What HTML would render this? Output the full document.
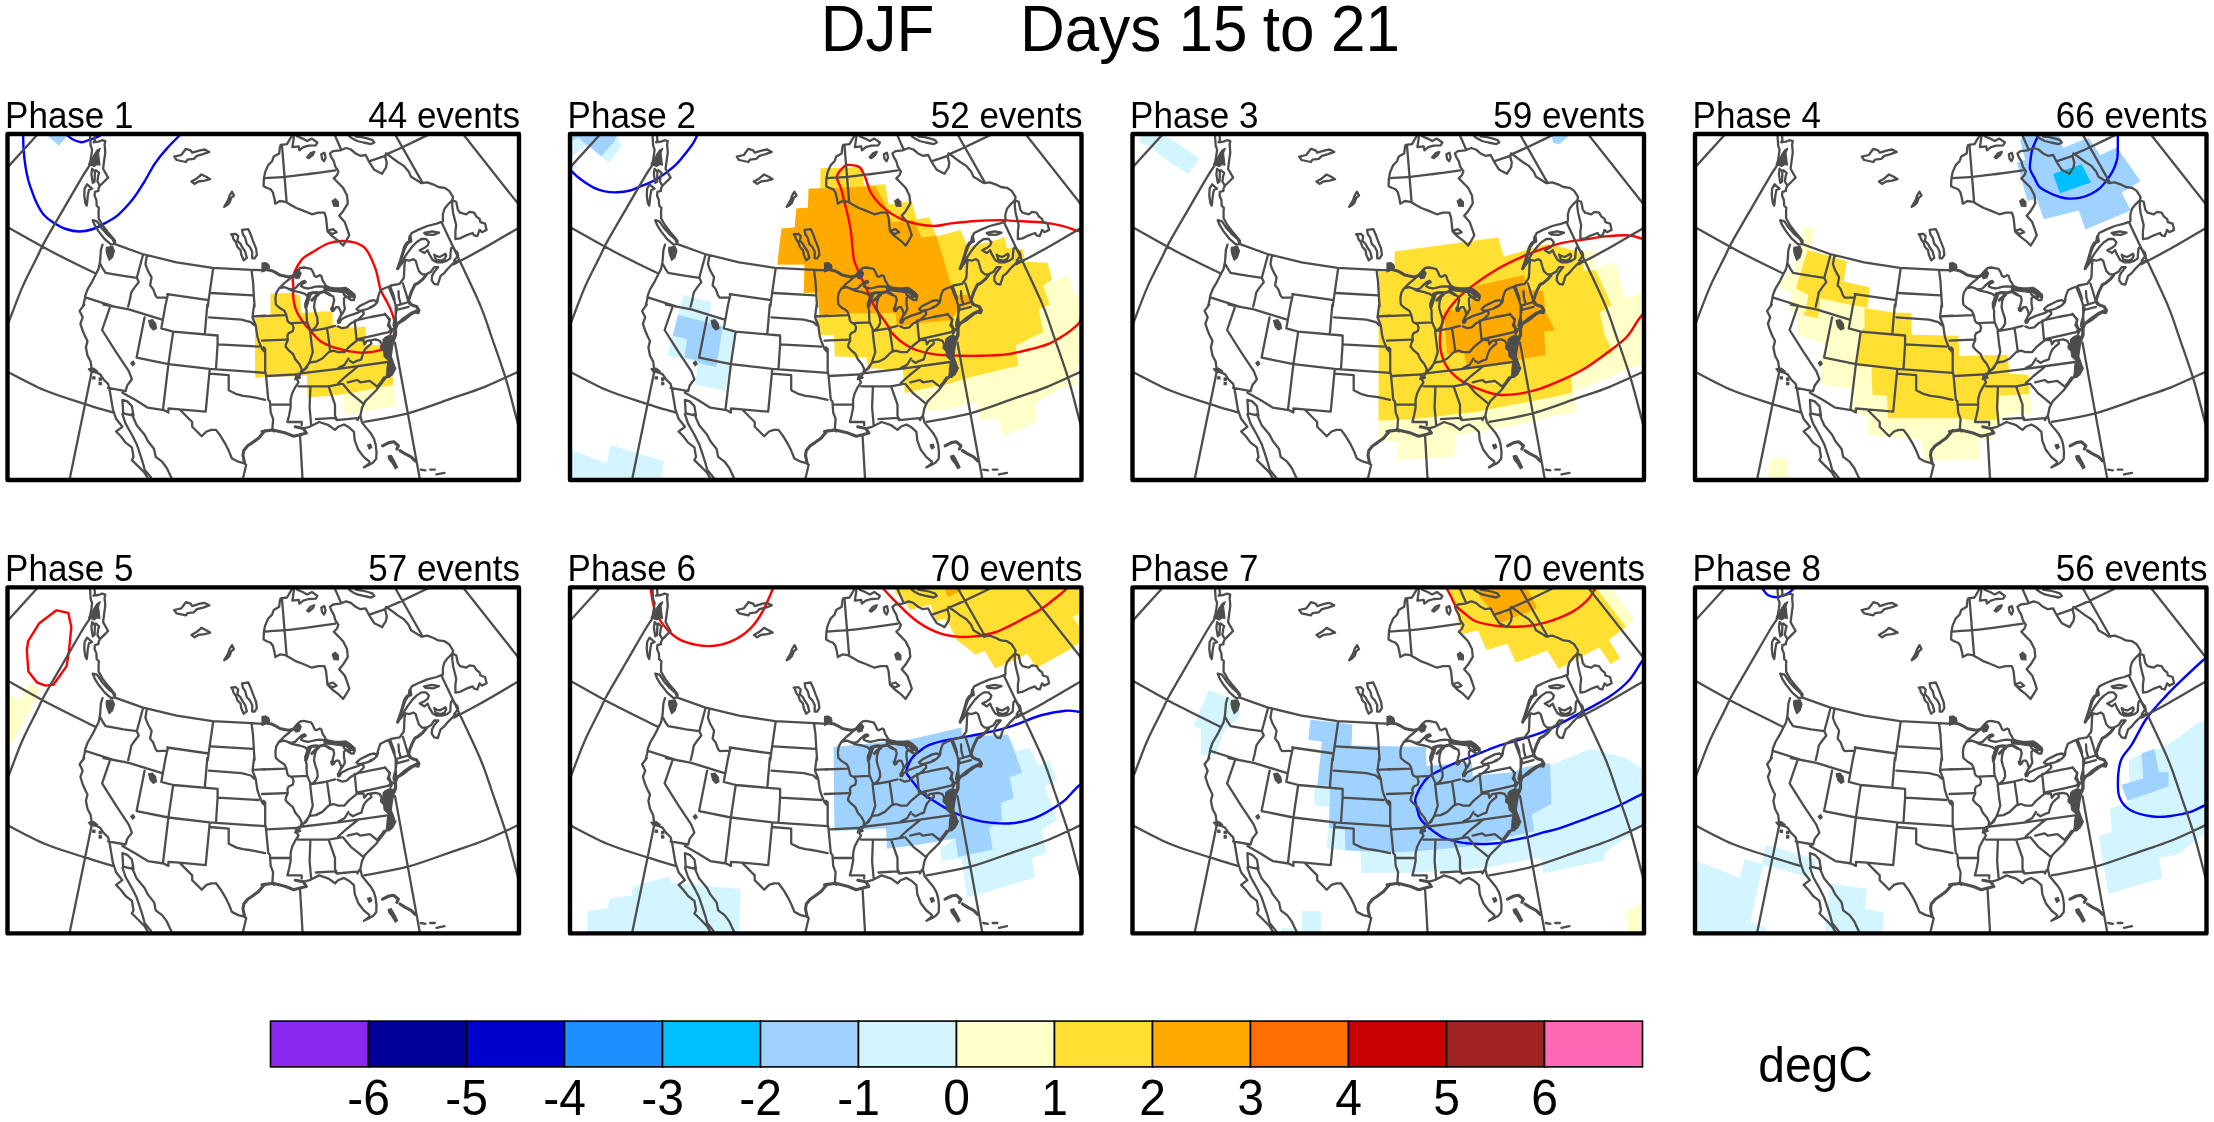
<!DOCTYPE html><html><head><meta charset="utf-8"><style>html,body{margin:0;padding:0;background:#fff;}svg{display:block;}svg{will-change:transform;}</style></head><body>
<svg width="2214" height="1122" viewBox="0 0 2214 1122">
<defs>
<clipPath id="pc1"><rect x="7.5" y="134.0" width="511.5" height="346.0"/></clipPath>
<clipPath id="pc2"><rect x="570.0" y="134.0" width="511.5" height="346.0"/></clipPath>
<clipPath id="pc3"><rect x="1132.5" y="134.0" width="511.5" height="346.0"/></clipPath>
<clipPath id="pc4"><rect x="1695.0" y="134.0" width="511.5" height="346.0"/></clipPath>
<clipPath id="pc5"><rect x="7.5" y="587.4" width="511.5" height="346.0"/></clipPath>
<clipPath id="pc6"><rect x="570.0" y="587.4" width="511.5" height="346.0"/></clipPath>
<clipPath id="pc7"><rect x="1132.5" y="587.4" width="511.5" height="346.0"/></clipPath>
<clipPath id="pc8"><rect x="1695.0" y="587.4" width="511.5" height="346.0"/></clipPath>
<g id="map"><g fill="none" stroke="#4d4d4d" stroke-width="2.3" stroke-linejoin="round" stroke-linecap="round"><path d="M5.6,623L40.2,584.9 M4.4,678.8C12.3,683.2 36.6,697.1 51.8,705.1C67,713.1 88.2,723.3 95.5,726.9 M265.1,631.5C268.5,631.3 278.1,630.9 285.4,630.2C292.7,629.6 300.5,628.5 308.8,627.4C317.1,626.3 330.9,624.3 335.3,623.7 M282,599L286.6,655.2 M332.9,584.2L340.8,602.2 M369.6,614.6L385.2,609.2 M386.8,607.6C389.4,606.4 395,604.1 402.4,600.6C409.8,597.1 426.4,589.1 431.2,586.8 M393.2,584.5L422.7,636.5 M461.1,585L521.5,661.5 M453.9,717.6C458.3,715.2 468.9,710 480.4,703.5C491.9,697.1 515.9,682.8 523,678.7 M441.4,675.5C444.8,682.6 454.9,703.9 461.5,718C468.1,732.1 475.8,748 480.8,760C485.8,772 487.4,778 491.5,790C495.6,802 501.6,818.5 505.7,831.8C509.8,845.1 513.4,860.2 516,870C518.6,879.8 520.6,887.3 521.5,890.8 M4.4,823.5C11.1,826.9 31.3,838.1 44.7,843.7C58,849.3 73,853.5 84.3,857.2C95.7,860.9 108.1,864.4 112.9,865.9 M68.8,936.8L91.5,826.2 M395,796.1L420.6,936.8 M364.3,875.4C371.6,874 393.3,870.6 408,866.7C422.6,862.7 439.7,856 452.4,851.6C465.1,847.2 472.6,845.1 484.1,840.5C495.6,835.9 515.1,826.5 521.3,823.8 M300.1,889.7L302.8,936.9 M90.3,617.5C90,618 90,618.2 88.7,620.3C87.4,622.4 86.6,623 82.4,630C78.2,637 69.8,651.7 63.5,662.5C57.2,673.3 49.1,687.1 44.7,695C40.3,702.9 41,702.5 37.4,710C33.7,717.5 27,730 22.6,740C18.2,750 14.4,760.7 10.8,770C7.2,779.3 2.5,791.3 0.8,795.6"/><path d="M115,697.6L142.3,707.4 176.6,715.7 212.5,721.2 251.5,723.2 265,723.8 M102.5,698.1L100.9,703.5 100.1,714.5 98.6,722.3 96.2,726.9 92.3,734.7 87.7,742.5 85.3,748.8 84.6,753.5 83,760 M100.5,717.6L102.5,721.5 105.6,726.2 114.2,727.7 123.5,729.3 136.8,731.2 M143,708.2L136.8,731.2 M136.8,731.2L138.8,735.5 134.5,741 131.3,745.7 129.8,753.5 128.2,760 M146.9,709L145.4,717.6 147.7,723.8 151.6,730.8 150.1,738.6 153.2,742.5 155.5,748.8 157.1,751.1 167.2,750.7 M168,747.5L165.2,760 M167.2,747.5L208.6,753.5 M213.2,721.5L208.6,753.5 207.8,760 M210.9,746.4L253,748.8 M251.5,723.5L253,734.7 253.8,748.8 254.6,760 M86.1,751.1L114.2,760 M174.2,610L181.3,608.4 185.9,602.2 190.6,603.7 192.2,606.1 200,603.7 204.7,602.9 209.3,605.3 203.1,607.6 196.9,609.2 193.7,612.3 187.5,613.1 185.9,615.4 176.6,613.4Z M191.4,634.9L196.9,631.8 201.5,627.9 206.2,630.2 210.1,632.6 204.7,634.1 198.4,634.9 194.5,637.3Z M224.2,660.2L228.1,653.6 229.6,649 232,645.1 234,649 231.2,651.3 229.6,656 227.3,658.3Z M242.1,683.3L248.3,682.5 250.7,687.9 253,694.2 256.1,702 256.9,708.2 254.6,711.7 252.2,711.7 252.2,705.1 249.9,700.4 246.8,697.3 245.2,691.1 242.9,687.9Z M231.2,687.6L235.9,687.2 238.2,689.5 237.4,694.2 240.5,697.3 242.1,700.4 245.2,705.1 246.8,711.3 243.7,713.7 241.3,708.2 240.5,703.5 237.4,700.4 235.9,695.7 233.5,692.6 232.7,689.5Z M92.7,673.6L97,674.7 101.7,681.7 107.2,687.9 112.6,692.6 115,697.3 111.1,698.1 104.8,692.6 98.6,684.8 94.7,678.6Z M98.6,665L98.6,671.6 102.5,678.6 107.9,685.6 112.6,691.1 115,694.2 115,697.6 M94.6,588.9L94.9,594.3 93.5,595.7 98.5,595 102.1,593.6 105.3,594.6 104.6,597.8 105.3,605.7 104.2,613.5 103.1,622.1 108.1,631 103.5,635.6 99.9,639.2 98.5,642 98.5,644.2 94.9,645.2 94.6,649.1 96.4,653.4 96.7,659.1 98.9,661.3 98.5,665 M90,588.9L90.7,599.3 92.1,602.8 91.4,608.5 90.3,614.9 89.2,617.8 M92.1,622.1L91.4,627.8 92.8,636.3 94.6,634.9 94.9,624.9Z M95.7,623.5L99.2,626.3 98.2,629.2 97.4,634.9 99.9,639.2 M87.1,637.7L92.1,642 88.9,643.4 87.8,649.1 87.1,656.3 86.7,659.1 85.3,656.3 84.3,649.1 84.6,642Z M291.6,589.7L289.3,593.6 287,597.5 280.7,598.3 279.9,600.6 279.2,606.8 273.7,610 272.1,614.6 268.2,618.5 265.1,625.6 263.9,631.8 263.6,639.6 266.7,641.2 270.6,642.7 272.9,645.8 274.5,652.1 275.3,657.1 279.9,654.4 285.4,655.2 290.9,658.3 296.3,661.4 302.6,663.8 311.9,667.7 318.2,666.1 324.4,666.1 326,670.8 326.7,677 327.5,684.8 332.2,689.5 338.4,694.2 343.1,698.9 M343.1,698.9L346.2,694.2 349.3,688.7 347,681.7 344.7,675.5 339.2,669.2 343.1,664.6 347.8,656.8 347,649 343.1,641.2 336.9,634.9 333.8,631.8 336.9,628.7 338.4,624.8 335.3,620.1 333.8,614.6 331.4,610.7 329.9,606.8 333,604.5 340,603.7 346.2,601.4 350.9,602.9 355.6,606.8 360.3,609.2 365.7,608.4 368.8,614.6 371.2,618.5 374.3,623.2 379,625.6 382.1,627.1 386,620.9 386.8,616.2 385.2,610 386,606.8 391.5,610.7 397.7,615.4 403.9,619.3 408.6,624.8 411,630.2 416.4,633.4 421.1,636.5 427.3,635.7 433.6,638 438.3,640.4 444.5,641.2 449.2,644.3 453.1,650.5 452.3,653.6 447.6,658.3 444.5,662.2 442.9,667.7 442.9,674.7 436.7,677 427.3,679.4 418,683.3 411.7,686.4 409.4,691.1 408.6,695.7 405.5,700.4 402.4,708.2 400,716 397.7,722.3 M452.3,653.6L456.2,655.2 457.8,663 460.1,666.1 466.3,667.7 469.5,665.3 474.1,666.1 476.5,670 479.6,672.3 480.4,675.5 485.1,677 486.6,683.3 481.9,685.6 479.6,683.3 477.3,689.5 474.1,688.7 472.6,686.4 466.3,688.7 460.1,691.8 455.4,692.6 455.4,684.8 456.2,678.6 454.6,672.3 453.1,666.1 452.3,659.9Z M424.2,686.4L432,684.8 439,686.1 433.6,688.3 425.8,687.9Z M294,589.7L292.4,600.6 298.7,599.8 299.4,603.7 303.3,600.6 308.8,599 315.8,598.7 317.4,595.9 311.9,592 307.2,594.4 302.6,592 297.1,589.7 M307.2,610.7L310.4,606.8 314.3,605.3 312.7,608.4 308.8,611.5Z M321.3,607.6L324.4,606.1 325.6,610.7 324.1,614.6 322.1,612.3Z M349.3,589.7L352.5,592 357.1,594.4 363.4,595.9 371.2,597.5 374.3,595.9 372.7,593.6 368.1,592 361.8,590.5 355.6,589.7 M328.3,684L333,682.5 336.6,685.6 333,687.2 329.9,686.4Z M292.7,729.4L295.4,726.3 297.7,723.6 300.3,721.4 303.9,720.9 308.3,721.8 311,722.3 312.8,725 314.6,729.4 316.4,730.3 319.9,728.5 321.3,729.4 322.6,733.9 324.4,736.5 325.7,739.2 M292.7,729.4L288.7,733 284.3,736.5 280.7,740.1 278.9,741.9 M278.9,741.9L284.3,740.6 287.8,741.9 291.4,742.8 295,741.9 298.5,738.3 302.1,735.2 304.8,734.3 305.7,735.7 302.1,737.4 301.2,739.7 303.9,741 308.3,741.9 311.9,741 315.5,740.1 319.9,739.7 324.4,740.1 325.7,739.2 M287.8,741.9L292.3,744.1 299.4,745.5 304.8,747.2 307.9,749.9 M307.9,749.9L306.6,753.5 305.2,757 305.7,760.6 306.6,764.2 306.6,769.5 307,774.9 308.3,778.4 310.1,782.4 311.5,784.2 M319,746.3L316.4,749.9 314.6,755.3 314.1,760.6 315.5,766 317.3,771.3 317.7,776.6 315.9,780.2 313.2,782.9 311.5,784.2 M329.7,748.1L333.3,749.9 334.2,753.5 333.3,757 332.4,760.6 331.5,763.3 333.3,764.2 336,760.6 338.6,760.6 340.4,764.2 341.3,767.7 339.5,771.3 338.6,775.8 M325.7,739.2L329.7,741 335.1,741.9 340.4,741.9 345.8,741.4 349.3,743.7 352,746.3 354.7,749.9 353.8,753.5 351.1,753.5 348.5,751.7 345.8,749.9 344,751.7 344,757 344.9,762.4 343.1,766 341.3,768.6 339.5,771.3 M343.1,744.6L346.7,744.1 349.3,746.3 351.1,749 350.2,750.8 346.7,749.9 344,748.1Z M338.6,775.8L342.2,772.2 347.6,769.5 352.9,767.7 358.3,766 360.9,764.2 363.6,765.5 M337.8,779.8L342.2,781.6 346.7,780.7 351.1,776.6 356.5,774 360,771.3 363.6,767.7 363.6,765.5 M356.5,762.4L360,759.3 365.4,756.6 369.8,754.4 374.3,753.5 377,755.3 375.2,757.9 371.6,760.6 367.2,762.4 361.8,763.7 358.3,764.2Z M377,754.4L378.8,748.1 380.5,743.7 385,741.4 391.2,739.2 M354.7,774L370.7,770.4 385,767.7 386.8,769.5 M354.7,774L356.5,792.7 M356.5,792.7L373.4,789.1 388.6,785.6 M386.8,769.5L389.5,773.1 388.6,776.6 390.3,780.2 390.3,783.8 388.6,785.6 M291.4,776.6L306.6,775.8 M278.9,741.9L276.3,746.3 275.4,751.7 275.8,757.9 279.8,761.5 284.3,764.2 286.1,767.7 287,771.3 287.4,774 288.7,775.8 292.3,777.5 293.6,781.1 292.7,784.7 288.7,786.5 287.4,789.1 287.8,793.6 286.1,797.1 285.6,800 M262,769.5L285.2,768.6 M262,794L286.1,793.1 M311.5,784.2L324.4,782 335.1,779.3 M310.1,784.2L311.9,800 M327.1,782L329.7,800 M84.3,758L79.6,764.3 82.7,770.7 80.4,777 82.7,784.2 85.1,789.7 87.5,794.5 85.9,800.8 87.5,808.8 90.7,815.1 91.5,821.5 93.8,824.6 100.2,827.8 103.4,832.6 108.1,837.3 109.7,843.7 111.3,853.2 112.9,862.7 114.5,867.5 M114.5,867.5L116.1,872.2 122.4,880.2 116.1,884.9 120.8,889.7 125.6,896 131.9,900.8 133.5,910.3 131.9,913.5 138.3,919.8 144.6,926.2 147.8,931.7 M122.4,867.5L125.6,877 131.9,888.1 136.7,897.6 139.9,907.1 143,916.7 144.6,923 151,930.9 M122.4,853.2L127.2,854.8 131.9,859.5 133.5,869.1 123.2,866.7Z M131.9,867.5L136.7,878.6 144.6,888.1 147.8,894.4 154.1,902.4 155.7,910.3 162.1,915.1 166.8,921.4 171.6,931.7 M109.7,761.2L102.1,783.4 116.1,805.6 128.8,824.6 M128.8,824.6L131.9,832.6 127.2,838.9 125.6,844.5 M108.1,841.3L125.6,844.5 M122.4,846.1L135.1,853.2 147.8,861.1 163.7,863.5 168.4,865.9 168.4,861.9 179.5,862.7 205.7,865.1 M179.5,862.7L185.9,869.1 192.2,875.4 192.2,880.2 197,884.9 201.7,889.7 206.5,884.9 211.3,883.3 216,883.3 220.8,889.7 225.5,897.6 228.7,904 231.9,911.9 238.2,915.1 244.6,916.7 246.2,918.2 M246.2,918.2L243,931.7 M144.6,770.7L136.7,810.4 M136.7,811.1L168.4,817.5 209.7,822.3 265,826.2 M209.7,823L205.7,865.1 M209.7,827L228.7,828.6 228.7,843.7 236.6,847.6 243,849.2 249.3,850 254.1,850.8 265,853.2 M168.4,817.5L162.9,863.5 M173.2,785L168.4,817.5 M103.4,758L128.8,762.8 162.1,773.1 M165.6,758L161.3,781.8 M161.3,781.8L173.2,785 217.6,788.9 M207.3,758L204.9,786.6 M217.6,788.9L217.6,797.7 M217.6,797.7L258.8,800 M217.6,797.7L216,822.3 M208.9,770.7L241.4,773.1 250.9,775.5 254.1,778.6 M252.5,770.7L255.7,778.6 257.3,789.7 258.8,794.5 262,802.4 265,805.6 M254.1,758L252.5,770.7 M252.5,769.9L265,769.1 M285.5,800L288.2,803.2 292.9,807.2 295.3,812.7 299.3,817.5 301.7,822.3 300.9,826.2 M312,800L312.8,805.6 309.6,815.1 306.4,821.5 304.5,823 M329.6,800L330.2,804 M300.9,826.2L304.8,822.3 309.6,815.9 315.9,815.1 322.3,811.9 328.6,805.6 333.4,804 338.2,805.6 344.5,805.6 348.5,800.8 353.2,796.9 357.2,793.7 M338.2,821.5L344.5,818.3 348.5,811.9 M298.5,827L338.2,822.3 387.3,815.4 M266.8,829.4L296.9,827.8 295.3,832.6 300.1,831 M263.6,800.8L265.2,802.4 265.2,824.6 266,828.6 268.3,853.2 M270.7,858L289.8,858 M268.3,853.2L269.9,854.8 270.7,865.9 273.1,872.2 272.3,883.3 273.9,884.9 M300.1,827.8L296.9,832.6 298.5,835.7 295.3,840.5 292.1,846.8 290.6,853.2 290.6,861.1 289,869.1 287.4,875.4 M287.4,875.4L301.7,875.4 301.7,878.6 M310.4,840.5L309.6,861.1 311.2,878.6 M298.5,839.7L328.6,839.7 341.3,837.3 M328.6,839.7L335,858 335,869.1 336.6,872.2 M315.9,872.5L334.8,871.3 336.7,873.5 356.6,871.6 357.5,873.5 359.3,870 M338.2,836.5L346.1,829.4 354,823 358.8,819.1 M342.9,837.3L350.8,846.8 358.8,853.2 363.5,857.2 M347.7,835.7L357.2,833.4 360.4,835.7 369.9,834.2 377.8,840.5 M396.9,761.2L395.3,770.7 393.7,777 395.3,786.6 392.1,796.1 M395.3,821.5L392.1,827.8 385.8,831 381,837.3 376.2,843.7 371.5,848.4 365.1,854.8 362,861.1 360.4,869.1 362,876 366.7,881.8 371,887 373.9,892.1 375.6,897.8 376.5,905.5 376.2,912.2 373.1,915.9 370.2,917.6 363.9,920.8 M363.9,920.8L369.3,916.7 369.3,914.9 363.9,910.5 358.3,903.2 354.8,894.1 353.9,885.2 349.3,881 344,877.9 338.2,880.2 335,883.3 328.6,878.6 319.1,875.4 309.6,880.2 303.3,881.8 M420.7,923L425.4,923.8 M430.2,923L434.9,923 M436.5,927.8L444.5,926.2 M397.7,722.1L402.1,716.5 404.5,710.9 407.7,706 412.5,699.6 416.5,695.6 421.3,692.4 426.1,692.4 428.9,695.6 427.7,698.8 424.5,701.2 419.7,703.6 424.5,706.4 427.7,703.6 429.3,707.6 432.6,713.3 436.6,715.7 442.2,715.7 447,714.1 450.2,711.7 450.6,706 451,702 452.6,700.4 455,703.6 457.4,706 458.2,709.2 456.6,710.9 454.2,714.1 M434.2,708L436.6,709.6 439.8,710.4 445.4,707.2 446.2,709.2 444.6,712.5 440.6,714.1 435.8,712.9Z M405.3,713.3L409.3,714.1 413.3,712.5 415.7,714.1 417.3,719.7 418.9,724.5 422.1,727.7 426.1,727.7 430.9,725.3 434.2,720.5 438.2,720.5 434.2,725.3 432.1,729.3 431.7,733.7 434.2,737.3 437.8,738.1 440.6,729.3 443.8,726.9 447.8,722.1 453.4,716.5 458.2,714.1 M405.3,713.3L404.5,718.1 404.1,727.7 403.7,731.7 401.3,734.9 399.7,737.3 M390.9,738.9L399.7,737.3 M389.2,741.3L391.7,747.7 394.1,753.4 395.7,759 395.7,770.2 396.5,780 M398.5,744.5L398.9,750.9 400.5,756.6 M402.9,736.9L405.3,744.5 407.7,752.6 408.5,754.2 M396.5,759L408.5,755.4 M396.5,763.4L408.5,760.2 M370,760.6L374,759 377.2,755.8 378,752.6 M357.1,793.5L363.5,793.5 364.3,797.8 367.1,794.2 371.4,793.5 375.7,792.8 379.9,794.2 381.4,797.1 M370.7,794.2L371.4,797.1 367.8,799.9 365,802.8 363.5,805.6 362.1,809.9 361.4,812.7 357.1,814.2 352.9,816.3 350,814.2 M384.9,767.1L387.1,770 389.9,772.8 389.2,776.4 387.8,778.5 389.9,781.4 392.8,782.8 390.6,787.1"/><path stroke-width="3.1" d="M267.3,723.2L271.8,724.1 275.4,725.8 279.8,728.5 284.3,729.4 288.7,730.3 292.7,729.4 M308.3,748.1L311.9,746.3 315.5,745.9 319,746.3 324.4,745 329.7,748.1 M311.9,753.5L315.5,749.9 318.1,748.1 M244.6,916.7L243,908.7 243.8,904 247.7,899.2 252.5,896 258.8,891.3 262.8,886.5 265,884.1 M262,884.9L273.1,883.3 285.8,886.5 293.7,889.7 300.1,888.1 306.4,886.5 303.3,881.8 295.3,880.2 M382.6,899.2L388.9,896 393.7,895.2 398.4,899.2 396.9,902.4 M400,904L404.8,907.1 411.1,910.3 415.1,914.3 M410.1,690L410.9,694.8 406.9,696.4 404.5,700.4 402.9,706 400.5,714.1 397.7,722.1 M426.1,728.5L422.9,732.5 418.1,736.5 414.9,738.1 411.7,744.5 409.7,750.1 408.5,754.2 410.1,756.6 M390,740.5L393.3,749.3 394.1,752.6 M408.5,754.2L410.1,757.4 413.3,759 416.5,759.8 418.9,763.8 418.1,766.2 414.9,765.4 411.7,767 M394.1,779L398.1,776.6 403.7,773.4 408.5,769.4 411.7,767 M393.5,793.5L395.6,788.5 395.6,781.4 397,777.8 403.5,772.1 410.6,767.1 418.8,763.2 M384.2,831.3L381.4,835.6 378.5,839.1"/><path fill="#4d4d4d" stroke-width="1.2" d="M106.4,700.7L112.6,699.8 114.5,704.3 112.6,710.6 109.2,713.7 107.3,709 106.1,704.3Z M90.7,618.5L91.4,613.5 94.2,607.8 97.1,603.5 100.3,601.7 98.5,606.4 99.2,612.1 99.9,618.5 97.1,617.8 94.2,619.9Z M332.2,654.4L335.3,652.1 338.4,655.2 338.4,659.9 333.8,659.6Z M262,716.5L265.6,715.9 268.7,717.8 269.6,720.9 267.8,723.4 264.7,724.1 262,725.4Z M293.2,728.5L295.9,725 299.4,724.1 301.2,726.7 299.4,731.2 295.9,732.1Z M308.3,746.3L311.9,745.9 309.2,753.5 307,760.6 304.8,760.6 306.1,753.5Z M330.6,761.5L333.3,760.6 334.2,764.2 332,765.1Z M323.5,740.6L333.3,741.9 346.7,742.8 351.1,744.6 355.1,748.1 354.7,751.2 350.2,749.9 345.8,746.3 335.1,745 324.4,743.7Z M337.3,774L339.5,771.3 341.3,774 340,776.6 337.8,776.6Z M148.6,773.9L152.5,773.1 155.7,777 156.5,781.8 153.3,783.4 150.2,780.2Z M130.7,816.4L133.2,814.5 134.8,817.3 132.6,819.2Z M88.3,822.3L93.8,821.5 97.8,824.6 95.4,826.2 90.7,825.4Z M92.7,830.2L95,830.2 95,832.3 92.7,832.3Z M99.1,831.3L101.3,831.3 101.3,833.7 99.1,833.7Z M99.1,835.7L101.3,835.7 101.3,838.1 99.1,838.1Z M367.5,898.4L370.7,897.6 371.8,900.8 369.1,902.4Z M388.1,909.5L391.3,908.7 394.5,914.3 397.6,920.6 395.3,922.2 392.1,916.7 388.9,912.7Z M384.9,791L389.9,788.5 393.1,789.9 393.8,794.2 392.2,802.8 391.3,809.9 394.9,819.9 394.5,824.1 391.7,828.1 389.2,830.9 386,830.2 386.7,827 387.1,820.6 387.8,816.3 388.8,814.2 384.2,809.9 383.5,804.5 380.6,801.7 380.6,799.1 382.9,797.2 383.1,792.9Z"/></g></g>
</defs>
<rect width="2214" height="1122" fill="#fff"/>
<g font-family="Liberation Sans, sans-serif" font-size="62" fill="#000">
<text transform="translate(820.8,51) scale(1,1.044)">DJF</text>
<text transform="translate(1020,51) scale(1,1.044)">Days</text>
<text transform="translate(1178.5,51) scale(1,1.044)">15</text>
<text transform="translate(1262.7,51) scale(1,1.044)">to</text>
<text transform="translate(1331.1,51) scale(1,1.044)">21</text>
</g>
<g clip-path="url(#pc1)">
<path fill="#ffffc8" d="M343.3,395.1 L358.5,391.7 L378.8,387.5 L393.2,384.9 L396.6,406.1 L375.5,409.5 L358.5,412.9 L345.0,414.6Z"/><path fill="#ffe032" d="M270.5,293.5 L291.6,293.0 L300.1,295.7 L301.0,313.3 L325.5,311.3 L332.3,312.1 L333.1,325.7 L355.1,327.4 L365.3,326.5 L366.7,346.0 L378.8,345.1 L385.6,346.8 L389.0,365.5 L393.2,379.0 L393.2,384.9 L378.8,387.5 L358.5,391.7 L343.3,394.2 L328.0,395.9 L307.7,397.6 L306.9,375.6 L299.3,376.5 L267.1,376.5 L255.2,378.2 L254.9,348.5 L255.2,316.4 L270.5,315.5Z"/><path fill="#a0d2ff" d="M47.2,135.4 L58.9,145.7 L67.7,135.4Z"/>
<path fill="none" stroke="#ff0000" stroke-width="2.4" stroke-linejoin="round" stroke-linecap="round" d="M293.3,275.7C294.7,271.3 298.6,263.6 301.8,259.6C305.0,255.7 308.4,254.7 312.8,252.0C317.2,249.3 323.2,245.4 328.0,243.5C332.8,241.7 337.1,241.1 341.6,241.0C346.1,240.9 351.0,241.3 355.1,242.7C359.2,244.1 362.8,245.1 366.1,249.5C369.5,253.8 373.1,262.3 375.5,268.9C377.9,275.6 378.8,284.2 380.5,289.3C382.2,294.3 383.9,296.0 385.6,299.4C387.3,302.8 389.3,306.2 390.7,309.6C392.1,313.0 393.4,316.6 394.1,319.7C394.8,322.8 395.1,325.4 394.9,328.2C394.8,331.0 394.2,333.8 393.2,336.7C392.2,339.5 391.1,342.9 389.0,345.1C386.9,347.4 384.8,348.9 380.5,350.2C376.3,351.5 369.0,352.6 363.6,352.8C358.2,352.9 353.2,351.9 348.4,351.1C343.6,350.2 339.3,349.2 334.8,347.7C330.3,346.1 325.2,344.4 321.3,341.8C317.3,339.1 314.2,335.0 311.1,331.6C308.0,328.2 305.2,325.1 302.6,321.4C300.1,317.8 297.4,313.5 295.9,309.6C294.3,305.6 293.8,301.7 293.3,297.7C292.9,293.8 293.3,289.5 293.3,285.9C293.3,282.2 291.9,280.1 293.3,275.7Z"/><path fill="none" stroke="#0000ff" stroke-width="2.4" stroke-linejoin="round" stroke-linecap="round" d="M23.1,133.9C23.2,136.5 23.2,144.1 23.6,149.6C24.0,155.2 24.8,162.0 25.6,167.3C26.4,172.5 27.4,176.7 28.5,181.0C29.7,185.2 31.0,188.8 32.5,192.7C33.9,196.7 35.4,200.8 37.4,204.5C39.3,208.3 41.4,212.2 44.2,215.3C47.0,218.4 50.4,220.8 54.0,223.1C57.6,225.4 61.5,227.6 65.8,229.0C70.0,230.4 74.9,231.5 79.5,231.5C84.1,231.5 89.0,230.4 93.2,229.0C97.5,227.6 100.9,225.4 105.0,223.1C109.1,220.8 113.2,219.2 117.7,215.3C122.3,211.4 128.0,205.2 132.5,199.6C136.9,194.1 140.5,188.0 144.2,182.0C148.0,175.9 151.2,168.9 155.0,163.3C158.8,157.8 162.4,153.5 166.8,148.6C171.1,143.7 178.6,136.4 181.0,133.9"/><path fill="none" stroke="#0000ff" stroke-width="2.4" stroke-linejoin="round" stroke-linecap="round" d="M65.8,133.9C66.8,134.7 69.1,137.4 71.7,138.8C74.3,140.2 78.5,142.1 81.5,142.3C84.4,142.4 87.0,140.5 89.3,139.8C91.6,139.1 92.9,138.8 95.2,137.8C97.5,136.9 101.7,134.6 103.0,133.9"/>
<use href="#map" transform="translate(0,-453.4)"/>
</g>
<rect x="7.5" y="134.0" width="511.5" height="346.0" fill="none" stroke="#000" stroke-width="4.4" stroke-linejoin="round"/>
<text font-family="Liberation Sans, sans-serif" font-size="35" transform="translate(5.1,127.6) scale(1,1.062)">Phase 1</text>
<text font-family="Liberation Sans, sans-serif" font-size="35" transform="translate(520,127.6) scale(1,1.062)" text-anchor="end">44 events</text>
<g clip-path="url(#pc2)">
<path fill="#ffffc8" d="M1043.1,285.5 L1068.0,275.3 L1074.8,295.7 L1083.9,298.0 L1083.9,363.6 L1074.8,365.9 L1077.1,384.0 L1061.2,388.6 L1036.3,402.1 L1036.3,422.5 L1002.3,436.1 L998.9,418.0 L979.7,420.3 L977.4,402.1 L948.0,408.9 L926.4,411.2 L924.2,397.6 L904.9,393.5 L925.3,388.6 L948.0,384.0 L970.6,377.2 L997.8,370.4 L1018.2,365.9 L1015.9,345.5 L1043.1,331.9 L1038.6,309.3 L1049.9,304.7Z"/><path fill="#ffe032" d="M820.3,168.2 L861.5,166.9 L864.0,185.5 L885.4,184.3 L888.7,204.5 L911.8,201.2 L916.7,219.3 L929.1,217.3 L936.5,236.6 L960.4,230.0 L967.9,247.3 L1000.0,239.1 L1004.6,236.8 L1006.8,248.1 L1022.7,249.3 L1025.0,261.7 L1047.6,262.8 L1052.1,279.8 L1043.1,285.5 L1049.9,304.7 L1038.6,309.3 L1043.1,331.9 L1015.9,345.5 L1018.2,365.9 L997.8,370.4 L970.6,377.2 L948.0,384.0 L925.3,388.6 L904.9,393.1 L902.6,369.8 L867.9,368.2 L866.4,357.2 L834.8,356.6 L833.9,335.1 L819.0,335.1 L817.4,316.2 L819.5,314.6 L817.8,292.7 L803.8,292.7 L804.6,264.6 L777.4,264.6 L781.5,228.4 L794.7,227.5 L796.4,208.6 L807.9,207.8 L808.7,188.8 L820.3,188.8Z"/><path fill="#ffaa00" d="M808.7,188.8 L875.5,186.3 L885.4,204.5 L892.0,222.6 L913.4,220.1 L921.7,237.4 L936.5,235.8 L943.1,257.2 L949.7,280.3 L956.3,295.1 L967.9,295.1 L970.3,304.2 L958.0,309.2 L951.4,319.9 L918.4,323.2 L897.0,326.5 L895.3,313.3 L849.1,313.3 L819.5,314.6 L817.8,292.7 L803.8,292.7 L804.6,264.6 L777.4,264.6 L781.5,228.4 L794.7,227.5 L796.4,208.6 L807.9,207.8Z"/><path fill="#d2f5ff" d="M570.6,134.5 L617.6,134.5 L621.2,146.3 L608.6,162.5 L594.1,150.8 L585.1,144.5 L577.8,152.6 L570.6,157.1Z"/><path fill="#a0d2ff" d="M570.6,134.5 L617.1,134.5 L614.9,140.8 L601.3,156.2 L590.5,147.2 L585.1,143.6 L578.7,137.7 L570.6,140.8Z"/><path fill="#d2f5ff" d="M570.6,163.4 L578.7,166.1 L570.6,172.5Z"/><path fill="#d2f5ff" d="M683.5,294.9 L711.5,302.3 L709.8,314.0 L722.7,326.8 L734.5,330.2 L731.1,363.0 L725.2,391.0 L695.3,384.6 L697.7,361.6 L689.4,360.6 L667.4,355.2 L672.7,334.1 L678.1,315.0 L680.6,306.7Z"/><path fill="#a0d2ff" d="M678.1,315.0 L704.1,321.4 L708.0,322.4 L722.7,326.5 L717.8,358.6 L715.9,367.0 L699.2,363.0 L697.3,360.6 L684.5,357.6 L687.0,339.5 L672.7,335.6Z"/><path fill="#d2f5ff" d="M569.9,449.4 L606.7,463.5 L610.7,445.0 L663.8,461.3 L661.3,479.4 L569.9,479.4Z"/>
<path fill="none" stroke="#ff0000" stroke-width="2.4" stroke-linejoin="round" stroke-linecap="round" d="M836.8,176.4C837.3,172.9 842.4,168.5 844.2,166.5C846.0,164.6 845.6,165.0 847.5,164.9C849.4,164.8 853.5,165.2 855.7,165.7C857.9,166.3 859.0,166.1 860.7,168.2C862.3,170.3 863.8,173.8 865.6,178.1C867.4,182.3 868.1,188.5 871.4,193.7C874.7,199.0 880.3,205.2 885.4,209.4C890.5,213.7 896.4,216.8 901.9,219.3C907.4,221.8 912.9,223.2 918.4,224.2C923.9,225.3 929.4,226.0 934.9,225.9C940.4,225.8 944.5,224.2 951.4,223.4C958.2,222.6 968.0,221.5 976.1,221.0C984.2,220.4 993.8,220.1 1000.0,220.1C1006.2,220.1 1005.1,220.4 1013.1,220.9C1021.1,221.4 1037.8,221.7 1047.8,223.1C1057.8,224.5 1065.2,226.0 1073.0,229.4C1080.9,232.8 1091.5,230.7 1095.1,243.6C1098.8,256.5 1097.2,294.6 1095.1,306.7C1093.0,318.8 1085.0,313.9 1082.5,316.2C1080.1,318.5 1081.4,319.1 1080.5,320.6C1079.5,322.1 1079.5,322.9 1077.1,325.1C1074.6,327.4 1070.3,331.2 1065.7,334.2C1061.2,337.2 1056.3,340.6 1049.9,343.3C1043.5,345.9 1034.8,348.2 1027.2,350.0C1019.7,351.9 1012.1,353.6 1004.6,354.6C997.0,355.5 989.5,355.5 981.9,355.7C974.4,355.9 966.8,355.9 959.3,355.7C951.7,355.5 943.8,355.5 936.6,354.6C929.5,353.6 922.3,352.3 916.2,350.0C910.2,347.8 904.9,344.4 900.4,341.0C895.9,337.6 890.7,331.5 889.1,329.7C887.4,327.8 891.2,331.4 890.4,329.8C889.5,328.1 886.2,323.5 883.8,319.9C881.3,316.3 877.7,311.9 875.5,308.3C873.3,304.8 872.2,302.0 870.6,298.4C868.9,294.9 867.3,290.5 865.6,286.9C864.0,283.3 862.1,280.0 860.7,277.0C859.3,274.0 858.5,271.5 857.4,268.8C856.3,266.0 854.9,264.1 854.1,260.5C853.3,257.0 853.0,252.3 852.4,247.3C851.9,242.4 851.6,236.3 850.8,230.8C850.0,225.3 848.6,219.3 847.5,214.4C846.4,209.4 845.3,205.6 844.2,201.2C843.1,196.8 842.1,192.1 840.9,188.0C839.7,183.9 836.2,180.0 836.8,176.4Z"/><path fill="none" stroke="#0000ff" stroke-width="2.4" stroke-linejoin="round" stroke-linecap="round" d="M569.7,169.7C570.1,170.0 570.6,170.3 572.0,171.6C573.3,172.8 575.7,175.2 577.8,177.0C580.0,178.8 582.4,180.6 585.1,182.4C587.8,184.2 590.8,186.3 594.1,187.8C597.4,189.3 601.0,190.7 604.9,191.4C608.9,192.2 613.4,192.5 617.6,192.3C621.8,192.2 626.6,191.4 630.2,190.5C633.8,189.6 636.3,188.1 639.3,186.9C642.3,185.7 645.3,184.7 648.3,183.3C651.3,181.9 654.3,180.6 657.3,178.8C660.3,177.0 663.4,174.7 666.4,172.5C669.4,170.2 672.7,167.8 675.4,165.2C678.1,162.7 680.4,159.8 682.6,157.1C684.9,154.4 687.1,151.4 689.0,149.0C690.8,146.6 692.0,145.2 693.5,142.6C695.0,140.1 697.2,135.1 698.0,133.6"/>
<use href="#map" transform="translate(562.5,-453.4)"/>
</g>
<rect x="570.0" y="134.0" width="511.5" height="346.0" fill="none" stroke="#000" stroke-width="4.4" stroke-linejoin="round"/>
<text font-family="Liberation Sans, sans-serif" font-size="35" transform="translate(567.6,127.6) scale(1,1.062)">Phase 2</text>
<text font-family="Liberation Sans, sans-serif" font-size="35" transform="translate(1082.5,127.6) scale(1,1.062)" text-anchor="end">52 events</text>
<g clip-path="url(#pc3)">
<path fill="#ffffc8" d="M1581.8,250.3 L1593.5,250.3 L1595.7,269.6 L1609.6,262.1 L1616.0,264.2 L1625.6,298.4 L1641.7,293.1 L1648.1,293.1 L1648.1,362.6 L1633.1,366.9 L1573.2,392.6 L1576.4,411.8 L1543.3,418.2 L1519.7,424.7 L1489.8,430.0 L1455.6,435.3 L1454.5,456.7 L1397.8,459.9 L1397.8,441.8 L1378.6,440.7 L1378.6,420.4 L1378.6,271.7 L1394.6,271.7 L1394.6,251.4 L1498.3,237.5 L1503.7,256.7 L1547.5,243.9Z"/><path fill="#ffe032" d="M1394.6,251.4 L1498.3,237.5 L1503.7,256.7 L1547.5,243.9 L1581.8,252.5 L1583.9,270.6 L1595.7,270.6 L1611.7,304.9 L1599.9,312.4 L1604.2,333.7 L1612.8,351.9 L1571.1,375.5 L1572.1,392.6 L1554.0,396.8 L1532.6,401.1 L1498.3,407.5 L1477.0,411.8 L1440.6,416.1 L1412.8,419.3 L1378.6,420.4 L1378.6,271.7 L1394.6,271.7Z"/><path fill="#ffaa00" d="M1443.8,311.3 L1470.5,309.1 L1472.7,286.7 L1524.0,274.9 L1527.2,289.9 L1543.3,291.0 L1545.4,311.3 L1555.0,330.5 L1544.3,331.6 L1545.4,355.1 L1519.7,359.4 L1467.3,369.0 L1464.1,353.0 L1447.0,354.1Z"/><path fill="#d2f5ff" d="M1139.5,130.0 L1161.6,130.0 L1164.7,134.7 L1199.4,158.4 L1188.4,174.2 L1171.0,163.1 L1148.9,145.8 L1139.5,142.6Z"/><path fill="#a0d2ff" d="M1551.3,130.0 L1571.8,130.0 L1570.2,134.7 L1559.2,144.2 L1552.8,142.6Z"/>
<path fill="none" stroke="#ff0000" stroke-width="2.4" stroke-linejoin="round" stroke-linecap="round" d="M1440.6,330.5C1441.3,324.8 1442.4,320.6 1444.9,315.6C1447.4,310.6 1450.9,305.6 1455.6,300.6C1460.2,295.6 1465.5,291.0 1472.7,285.6C1479.8,280.3 1490.5,273.1 1498.3,268.5C1506.2,263.9 1512.6,261.0 1519.7,257.8C1526.9,254.6 1534.0,251.7 1541.1,249.3C1548.3,246.8 1555.4,244.4 1562.5,242.8C1569.6,241.2 1576.8,240.7 1583.9,239.6C1591.0,238.6 1598.2,237.1 1605.3,236.4C1612.4,235.7 1620.6,235.0 1626.7,235.3C1632.7,235.7 1636.0,236.6 1641.7,238.6C1647.4,240.5 1657.7,236.8 1660.9,247.1C1664.1,257.5 1664.1,289.2 1660.9,300.6C1657.7,312.0 1647.4,309.5 1641.7,315.6C1636.0,321.6 1632.7,330.5 1626.7,337.0C1620.6,343.4 1612.4,348.7 1605.3,354.1C1598.2,359.4 1591.0,364.8 1583.9,369.0C1576.8,373.3 1569.6,376.5 1562.5,379.7C1555.4,382.9 1548.3,386.0 1541.1,388.3C1534.0,390.6 1526.9,392.6 1519.7,393.6C1512.6,394.7 1505.5,395.6 1498.3,394.7C1491.2,393.8 1483.4,390.8 1477.0,388.3C1470.5,385.8 1464.8,383.3 1459.8,379.7C1454.8,376.2 1450.2,371.9 1447.0,366.9C1443.8,361.9 1441.7,355.8 1440.6,349.8C1439.5,343.7 1439.9,336.2 1440.6,330.5Z"/>
<use href="#map" transform="translate(1125,-453.4)"/>
</g>
<rect x="1132.5" y="134.0" width="511.5" height="346.0" fill="none" stroke="#000" stroke-width="4.4" stroke-linejoin="round"/>
<text font-family="Liberation Sans, sans-serif" font-size="35" transform="translate(1130.1,127.6) scale(1,1.062)">Phase 3</text>
<text font-family="Liberation Sans, sans-serif" font-size="35" transform="translate(1645,127.6) scale(1,1.062)" text-anchor="end">59 events</text>
<g clip-path="url(#pc4)">
<path fill="#ffffc8" d="M1802.5,225.8 L1814.8,229.6 L1810.1,251.2 L1846.9,261.2 L1843.5,281.5 L1869.8,287.5 L1867.8,307.8 L1893.4,312.4 L1911.5,313.6 L1911.5,334.7 L1958.2,335.8 L1959.4,355.9 L2007.2,354.8 L2009.5,373.7 L2028.4,374.8 L2031.8,413.8 L2009.5,414.9 L1999.4,420.5 L1992.8,439.4 L1978.3,440.5 L1979.4,459.5 L1923.7,460.6 L1921.5,439.4 L1868.0,435.0 L1868.0,416.0 L1851.3,411.6 L1854.7,389.3 L1821.2,384.8 L1821.2,358.1 L1825.7,344.7 L1797.8,334.7 L1796.7,313.6 L1788.9,309.1 L1791.2,293.5 L1780.0,286.8 L1780.0,280.1 L1792.3,271.2 L1797.8,253.4Z"/><path fill="#ffe032" d="M1807.8,249.9 L1846.8,261.2 L1843.6,281.5 L1869.8,287.4 L1867.7,307.7 L1853.8,305.6 L1820.6,298.6 L1818.0,318.4 L1803.0,314.7 L1805.7,310.9 L1808.3,294.9 L1796.0,288.4 L1801.4,270.3Z"/><path fill="#ffe032" d="M1864.5,308.2 L1893.4,312.5 L1911.6,313.0 L1911.5,313.6 L1911.5,334.7 L1958.2,335.8 L1959.4,355.9 L2007.2,354.8 L2009.5,373.7 L2028.4,374.8 L2029.5,393.8 L1999.4,396.0 L1997.2,419.4 L1974.9,420.5 L1959.4,418.3 L1888.1,418.3 L1887.0,396.0 L1872.5,394.9 L1871.4,367.0 L1856.9,365.9 L1860.2,331.4 L1864.5,327.0Z"/><path fill="#a0d2ff" d="M2020.3,140.3 L2023.7,133.9 L2059.0,133.9 L2062.9,148.1 L2084.5,139.3 L2088.9,138.3 L2100.2,155.0 L2116.9,147.6 L2140.4,181.0 L2121.8,192.7 L2130.6,210.4 L2085.5,229.5 L2078.6,210.4 L2043.8,219.2 L2036.5,198.6 L2027.6,201.1 L2016.9,162.4 L2025.2,159.9Z"/><path fill="#00bfff" d="M2053.1,174.1 L2081.6,164.3 L2090.9,182.5 L2060.0,193.2Z"/><path fill="#ffffc8" d="M1769.3,459.8 L1786.7,458.2 L1788.2,483.4 L1767.7,483.4Z"/>
<path fill="none" stroke="#0000ff" stroke-width="2.4" stroke-linejoin="round" stroke-linecap="round" d="M2039.4,132.9C2038.3,135.6 2034.0,144.2 2032.5,148.6C2031.1,153.0 2031.0,156.0 2030.6,159.4C2030.2,162.8 2029.4,166.1 2030.1,169.2C2030.8,172.3 2033.0,175.1 2034.5,178.0C2036.1,181.0 2037.0,184.4 2039.4,186.9C2041.9,189.3 2045.9,191.1 2049.2,192.7C2052.5,194.4 2055.8,195.7 2059.0,196.7C2062.3,197.6 2065.2,198.5 2068.8,198.6C2072.4,198.8 2076.8,198.5 2080.6,197.6C2084.3,196.8 2088.1,195.4 2091.4,193.7C2094.6,192.1 2097.7,190.0 2100.2,187.8C2102.6,185.7 2104.3,183.3 2106.1,181.0C2107.9,178.7 2109.5,176.6 2111.0,174.1C2112.5,171.7 2113.8,169.1 2114.9,166.3C2116.0,163.5 2116.9,160.6 2117.4,157.5C2117.8,154.3 2117.8,151.7 2117.8,147.6C2117.9,143.6 2117.8,135.4 2117.8,132.9"/>
<use href="#map" transform="translate(1687.5,-453.4)"/>
</g>
<rect x="1695.0" y="134.0" width="511.5" height="346.0" fill="none" stroke="#000" stroke-width="4.4" stroke-linejoin="round"/>
<text font-family="Liberation Sans, sans-serif" font-size="35" transform="translate(1692.6,127.6) scale(1,1.062)">Phase 4</text>
<text font-family="Liberation Sans, sans-serif" font-size="35" transform="translate(2207.5,127.6) scale(1,1.062)" text-anchor="end">66 events</text>
<g clip-path="url(#pc5)">
<path fill="#ffffc8" d="M5.0,692.6 L9.7,694.2 L19.8,700.4 L22.9,694.2 L30.0,683.3 L40.1,689.5 L11.2,745.7 L5.0,745.7Z"/>
<path fill="none" stroke="#ff0000" stroke-width="2.4" stroke-linejoin="round" d="M56.5,610.3 L68.2,612.8 L71.3,627.1 L69.0,650.5 L66.6,666.1 L53.4,684.8 L45.6,685.6 L37.0,682.5 L28.4,671.6 L26.8,650.5 L28.1,641.2 L39.3,623.2Z"/>
<use href="#map" transform="translate(0,0)"/>
</g>
<rect x="7.5" y="587.4" width="511.5" height="346.0" fill="none" stroke="#000" stroke-width="4.4" stroke-linejoin="round"/>
<text font-family="Liberation Sans, sans-serif" font-size="35" transform="translate(5.1,581.2) scale(1,1.062)">Phase 5</text>
<text font-family="Liberation Sans, sans-serif" font-size="35" transform="translate(520,581.2) scale(1,1.062)" text-anchor="end">57 events</text>
<g clip-path="url(#pc6)">
<path fill="#d2f5ff" d="M1007.9,734.4 L1016.4,751.3 L1029.9,747.9 L1038.4,765.7 L1049.4,760.6 L1057.0,779.3 L1045.2,786.9 L1057.0,819.9 L1041.8,830.0 L1046.8,852.9 L1031.6,858.0 L1035.0,877.4 L967.3,897.8 L961.4,858.0 L941.9,861.4 L940.2,848.7 L955.4,838.5 L972.4,787.7Z"/><path fill="#a0d2ff" d="M833.5,747.1 L909.7,739.5 L961.4,727.6 L962.2,736.9 L1007.9,734.4 L1022.3,772.5 L1009.6,777.6 L1013.8,797.9 L1001.1,803.0 L1002.0,819.9 L989.3,828.3 L992.7,849.5 L958.0,857.1 L955.4,838.5 L914.8,845.3 L886.9,848.7 L886.0,828.3 L860.6,829.7 L834.4,830.9Z"/><path fill="#d2f5ff" d="M587.5,911.2 L608.0,908.0 L609.6,898.6 L631.7,895.4 L633.3,885.9 L669.6,876.5 L671.1,882.8 L740.6,889.1 L739.0,936.4 L587.5,936.4Z"/><path fill="#ffe032" d="M894.2,585.0 L1081.1,585.0 L1081.1,641.6 L1068.8,650.1 L1049.9,660.5 L1036.7,668.1 L1027.3,653.9 L995.2,668.5 L984.8,651.1 L975.3,654.4 L956.5,639.8 L948.4,622.8 L944.2,619.0 L936.6,620.9 L932.9,613.3 L931.0,604.8 L910.2,610.0 L904.5,601.0 L895.6,593.5Z"/><path fill="#ffffc8" d="M1072.6,617.1 L1081.1,612.4 L1081.1,629.4Z"/><path fill="#ffffc8" d="M1073.5,585.0 L1081.1,585.0 L1081.1,592.6Z"/><path fill="#ffaa00" d="M944.2,585.0 L965.0,585.0 L958.4,592.1 L948.0,597.3 L946.1,593.5Z"/>
<path fill="none" stroke="#0000ff" stroke-width="2.4" stroke-linejoin="round" stroke-linecap="round" d="M1100.3,772.3C1096.9,774.4 1085.6,780.4 1079.8,785.0C1074.0,789.5 1069.8,795.7 1065.5,799.6C1061.1,803.4 1057.9,805.4 1053.6,808.0C1049.4,810.7 1044.6,813.5 1040.1,815.6C1035.6,817.8 1031.3,819.5 1026.5,820.7C1021.7,822.0 1016.1,822.8 1011.3,823.3C1006.5,823.7 1002.6,823.5 997.8,823.3C993.0,823.0 987.3,822.4 982.5,821.6C977.7,820.7 973.2,819.5 969.0,818.2C964.7,816.9 961.1,815.6 957.1,814.0C953.2,812.3 949.5,810.4 945.3,808.0C941.0,805.6 935.7,802.1 931.7,799.6C927.8,797.0 924.4,795.3 921.6,792.8C918.8,790.3 916.8,786.9 914.8,784.3C912.8,781.8 911.1,779.7 909.7,777.6C908.3,775.4 906.1,774.7 906.3,771.6C906.6,768.5 909.4,762.2 911.4,758.9C913.4,755.7 915.4,754.4 918.2,752.2C921.0,749.9 924.4,747.2 928.3,745.4C932.3,743.6 937.4,742.3 941.9,741.2C946.4,740.0 950.9,739.5 955.4,738.6C959.9,737.8 964.5,736.9 969.0,736.1C973.5,735.2 977.7,734.5 982.5,733.5C987.3,732.6 992.4,731.6 997.8,730.2C1003.1,728.7 1007.6,727.5 1014.7,725.1C1021.8,722.6 1031.9,717.9 1040.3,715.5C1048.8,713.2 1059.3,711.4 1065.6,710.8C1071.9,710.2 1072.4,711.0 1078.2,711.7C1084.0,712.5 1096.6,714.9 1100.3,715.5"/><path fill="none" stroke="#ff0000" stroke-width="2.4" stroke-linejoin="round" stroke-linecap="round" d="M649.7,583.0C649.8,584.1 649.7,584.6 650.6,589.3C651.6,594.0 652.5,604.6 655.4,611.4C658.2,618.2 663.2,625.3 668.0,630.3C672.7,635.3 676.9,638.7 683.8,641.4C690.6,644.0 701.1,646.1 709.0,646.1C716.9,646.1 724.3,644.3 731.1,641.4C737.9,638.5 744.8,633.8 750.0,628.8C755.3,623.8 758.4,619.0 762.6,611.4C766.9,603.8 773.2,587.7 775.3,583.0"/><path fill="none" stroke="#ff0000" stroke-width="2.4" stroke-linejoin="round" stroke-linecap="round" d="M880.0,585.0C880.6,585.7 881.9,587.2 883.8,589.2C885.7,591.3 888.8,594.7 891.3,597.3C893.8,599.9 896.4,602.3 898.9,604.8C901.4,607.3 903.9,610.0 906.4,612.4C908.9,614.7 911.2,616.8 914.0,619.0C916.8,621.2 920.0,623.5 923.4,625.6C926.9,627.6 931.0,629.7 934.8,631.3C938.5,632.8 941.8,634.1 946.1,635.0C950.3,636.0 955.5,636.7 960.2,636.9C965.0,637.2 970.5,636.8 974.4,636.4C978.3,636.1 979.9,635.9 983.8,635.0C987.8,634.2 993.3,633.0 998.0,631.3C1002.7,629.5 1007.4,627.0 1012.2,624.6C1016.9,622.3 1021.6,619.6 1026.3,617.1C1031.0,614.6 1036.2,612.2 1040.5,609.5C1044.7,606.9 1048.4,603.7 1051.8,601.0C1055.3,598.4 1058.9,595.5 1061.3,593.5C1063.6,591.5 1064.7,590.7 1066.0,589.2C1067.2,587.8 1068.3,585.7 1068.8,585.0"/>
<use href="#map" transform="translate(562.5,0)"/>
</g>
<rect x="570.0" y="587.4" width="511.5" height="346.0" fill="none" stroke="#000" stroke-width="4.4" stroke-linejoin="round"/>
<text font-family="Liberation Sans, sans-serif" font-size="35" transform="translate(567.6,581.2) scale(1,1.062)">Phase 6</text>
<text font-family="Liberation Sans, sans-serif" font-size="35" transform="translate(1082.5,581.2) scale(1,1.062)" text-anchor="end">70 events</text>
<g clip-path="url(#pc7)">
<path fill="#d2f5ff" d="M1208.9,690.3 L1238.9,701.3 L1240.4,715.5 L1224.7,729.7 L1215.2,755.0 L1201.0,755.0 L1201.0,728.2 L1193.1,726.6Z"/><path fill="#d2f5ff" d="M1310.6,719.8 L1352.3,724.4 L1351.5,745.6 L1425.8,747.1 L1426.5,766.1 L1472.0,762.3 L1472.7,775.9 L1515.2,772.1 L1519.7,768.3 L1552.8,764.4 L1590.7,748.7 L1625.4,758.1 L1642.8,769.2 L1642.8,826.0 L1606.5,851.2 L1603.3,860.7 L1543.4,873.3 L1540.2,857.5 L1480.3,868.6 L1414.0,872.7 L1361.4,872.9 L1360.6,851.7 L1326.5,847.9 L1328.8,827.9 L1330.3,807.0 L1314.4,805.5 L1314.4,788.8 L1317.4,785.0 L1322.0,741.8 L1308.3,739.5Z"/><path fill="#a0d2ff" d="M1310.6,719.8 L1352.3,724.4 L1351.5,745.6 L1425.8,747.1 L1426.5,766.1 L1472.0,762.3 L1472.7,775.9 L1515.2,772.1 L1519.7,768.3 L1550.0,763.0 L1551.5,803.9 L1531.8,814.5 L1534.1,831.2 L1501.5,838.8 L1466.7,846.4 L1436.4,849.4 L1397.0,852.4 L1345.5,850.2 L1344.7,829.7 L1328.8,827.9 L1330.3,785.8 L1317.4,785.0 L1322.0,741.8 L1308.3,739.5Z"/><path fill="#d2f5ff" d="M1302.0,911.2 L1320.9,911.2 L1320.9,936.4 L1302.0,936.4Z"/><path fill="#d2f5ff" d="M1281.5,928.5 L1297.2,928.5 L1297.2,936.4 L1281.5,936.4Z"/><path fill="#ffffc8" d="M1625.4,911.2 L1647.5,901.7 L1647.5,936.4 L1628.6,936.4Z"/><path fill="#ffffc8" d="M1591.8,585.0 L1608.8,585.0 L1634.0,618.7 L1625.9,626.7 L1601.2,604.0Z"/><path fill="#ffe032" d="M1445.7,585.0 L1593.7,585.0 L1625.9,626.7 L1608.8,640.0 L1620.2,658.0 L1610.7,664.2 L1599.3,647.6 L1582.3,656.1 L1558.6,668.9 L1547.2,650.4 L1515.9,662.8 L1507.3,643.8 L1486.5,650.0 L1477.9,630.5 L1461.8,634.3 L1454.2,604.0Z"/><path fill="#ffaa00" d="M1474.1,585.0 L1525.4,585.0 L1537.2,608.2 L1512.1,618.2 L1500.7,622.9 L1496.0,615.4 L1480.8,598.3Z"/>
<path fill="none" stroke="#0000ff" stroke-width="2.4" stroke-linejoin="round" stroke-linecap="round" d="M1660.1,639.8C1657.2,643.2 1648.0,653.5 1642.8,660.3C1637.5,667.1 1634.1,674.8 1628.6,680.8C1623.1,686.9 1617.0,691.6 1609.6,696.6C1602.3,701.6 1594.6,705.3 1584.4,710.8C1574.2,716.3 1558.0,725.3 1548.5,729.7C1539.0,734.1 1533.3,735.3 1527.3,737.3C1521.2,739.3 1517.2,740.3 1512.1,741.8C1507.1,743.3 1502.0,744.6 1497.0,746.4C1491.9,748.1 1486.9,750.4 1481.8,752.4C1476.8,754.4 1471.7,756.5 1466.7,758.5C1461.6,760.5 1456.1,762.5 1451.5,764.5C1447.0,766.6 1443.2,768.6 1439.4,770.6C1435.6,772.6 1431.8,774.1 1428.8,776.7C1425.8,779.2 1423.2,782.7 1421.2,785.8C1419.2,788.8 1417.7,792.3 1416.7,794.8C1415.7,797.4 1415.0,798.4 1415.2,800.9C1415.3,803.4 1416.7,807.2 1417.4,810.0C1418.2,812.8 1418.3,815.1 1419.7,817.6C1421.1,820.1 1423.5,822.9 1425.8,825.2C1428.0,827.4 1430.6,829.2 1433.3,831.2C1436.1,833.2 1439.4,835.8 1442.4,837.3C1445.5,838.8 1447.5,839.3 1451.5,840.3C1455.6,841.3 1461.6,842.7 1466.7,843.3C1471.7,844.0 1476.8,844.1 1481.8,844.1C1486.9,844.1 1491.9,844.0 1497.0,843.3C1502.0,842.7 1507.1,841.3 1512.1,840.3C1517.2,839.3 1522.2,838.5 1527.3,837.3C1532.3,836.0 1537.0,834.2 1542.4,832.7C1547.9,831.2 1552.5,830.6 1560.0,828.2C1567.5,825.7 1578.2,821.6 1587.6,818.1C1596.9,814.6 1608.1,810.5 1616.0,807.0C1623.8,803.6 1627.5,801.3 1634.9,797.6C1642.3,793.9 1655.9,787.1 1660.1,785.0"/><path fill="none" stroke="#ff0000" stroke-width="2.4" stroke-linejoin="round" stroke-linecap="round" d="M1444.7,585.0C1445.1,585.7 1446.0,587.2 1447.1,589.3C1448.2,591.3 1450.0,594.7 1451.4,597.3C1452.7,599.9 1453.0,602.2 1455.2,604.9C1457.4,607.6 1461.3,610.8 1464.7,613.5C1468.0,616.1 1471.3,619.2 1475.1,621.0C1478.9,622.9 1483.2,623.5 1487.4,624.4C1491.7,625.2 1496.0,625.9 1500.7,626.3C1505.4,626.7 1511.0,626.8 1515.9,626.7C1520.8,626.7 1525.4,626.4 1530.1,625.8C1534.8,625.2 1539.6,624.2 1544.3,622.9C1549.1,621.7 1553.8,620.1 1558.6,618.2C1563.3,616.3 1568.8,613.8 1572.8,611.6C1576.7,609.3 1579.4,607.3 1582.3,604.9C1585.1,602.5 1587.8,599.9 1589.9,597.3C1591.9,594.7 1593.5,591.3 1594.6,589.3C1595.7,587.2 1596.2,585.7 1596.5,585.0"/>
<use href="#map" transform="translate(1125,0)"/>
</g>
<rect x="1132.5" y="587.4" width="511.5" height="346.0" fill="none" stroke="#000" stroke-width="4.4" stroke-linejoin="round"/>
<text font-family="Liberation Sans, sans-serif" font-size="35" transform="translate(1130.1,581.2) scale(1,1.062)">Phase 7</text>
<text font-family="Liberation Sans, sans-serif" font-size="35" transform="translate(1645,581.2) scale(1,1.062)" text-anchor="end">70 events</text>
<g clip-path="url(#pc8)">
<path fill="#d2f5ff" d="M2129.0,772.3 L2129.0,759.7 L2143.2,753.4 L2165.3,747.1 L2196.9,723.4 L2209.5,718.7 L2209.5,829.1 L2178.0,854.4 L2159.0,857.5 L2162.2,878.0 L2108.5,893.8 L2103.8,868.6 L2099.1,835.4 L2111.7,832.3 L2110.1,808.6 L2130.6,800.7Z"/><path fill="#a0d2ff" d="M2121.2,785.0 L2143.2,778.6 L2141.7,753.4 L2154.3,748.7 L2159.0,772.3 L2168.5,772.3 L2168.5,786.5 L2127.5,800.7Z"/><path fill="#d2f5ff" d="M1692.0,858.6 L1695.8,860.5 L1739.7,877.7 L1744.9,859.1 L1761.6,863.9 L1765.9,844.8 L1816.0,859.6 L1815.0,867.2 L1806.4,876.7 L1772.1,867.2 L1763.1,865.3 L1750.2,921.6 L1766.4,928.2 L1767.3,934.9 L1692.0,934.9Z"/><path fill="#d2f5ff" d="M1830.8,883.4 L1867.0,889.1 L1865.1,909.2 L1883.7,912.0 L1882.7,934.9 L1825.0,934.9 L1829.3,891.0Z"/>
<path fill="none" stroke="#0000ff" stroke-width="2.4" stroke-linejoin="round" stroke-linecap="round" d="M2222.1,646.1C2219.2,648.2 2211.1,653.5 2204.8,658.7C2198.5,664.0 2190.8,671.4 2184.3,677.7C2177.7,684.0 2171.6,689.8 2165.3,696.6C2159.0,703.4 2151.9,710.8 2146.4,718.7C2140.9,726.6 2136.4,737.1 2132.2,743.9C2128.0,750.8 2123.5,753.9 2121.2,759.7C2118.8,765.5 2118.3,772.3 2118.0,778.6C2117.7,785.0 2117.5,792.3 2119.6,797.6C2121.7,802.8 2125.1,807.0 2130.6,810.2C2136.1,813.4 2145.9,815.6 2152.7,816.5C2159.6,817.5 2165.3,816.7 2171.6,815.9C2178.0,815.1 2185.1,813.5 2190.6,811.8C2196.1,810.0 2199.5,807.3 2204.8,805.5C2210.0,803.6 2219.2,801.5 2222.1,800.7"/><path fill="none" stroke="#0000ff" stroke-width="2.4" stroke-linejoin="round" stroke-linecap="round" d="M1759.8,583.0C1760.4,584.1 1761.7,587.3 1763.0,589.3C1764.3,591.3 1765.4,593.7 1767.7,595.0C1770.1,596.3 1774.0,597.4 1777.2,597.2C1780.4,597.0 1784.0,595.4 1786.7,594.0C1789.3,592.7 1791.4,591.2 1793.0,589.3C1794.6,587.5 1795.6,584.1 1796.1,583.0"/>
<use href="#map" transform="translate(1687.5,0)"/>
</g>
<rect x="1695.0" y="587.4" width="511.5" height="346.0" fill="none" stroke="#000" stroke-width="4.4" stroke-linejoin="round"/>
<text font-family="Liberation Sans, sans-serif" font-size="35" transform="translate(1692.6,581.2) scale(1,1.062)">Phase 8</text>
<text font-family="Liberation Sans, sans-serif" font-size="35" transform="translate(2207.5,581.2) scale(1,1.062)" text-anchor="end">56 events</text>
<rect x="270.5" y="1021.1" width="98.0" height="45.8" fill="#8a28ee" stroke="#000" stroke-width="1.6"/>
<rect x="368.5" y="1021.1" width="98.0" height="45.8" fill="#000096" stroke="#000" stroke-width="1.6"/>
<rect x="466.5" y="1021.1" width="98.0" height="45.8" fill="#0000cd" stroke="#000" stroke-width="1.6"/>
<rect x="564.5" y="1021.1" width="98.0" height="45.8" fill="#1e8fff" stroke="#000" stroke-width="1.6"/>
<rect x="662.5" y="1021.1" width="98.0" height="45.8" fill="#00bfff" stroke="#000" stroke-width="1.6"/>
<rect x="760.5" y="1021.1" width="98.0" height="45.8" fill="#a0d2ff" stroke="#000" stroke-width="1.6"/>
<rect x="858.5" y="1021.1" width="98.0" height="45.8" fill="#d2f5ff" stroke="#000" stroke-width="1.6"/>
<rect x="956.5" y="1021.1" width="98.0" height="45.8" fill="#ffffc8" stroke="#000" stroke-width="1.6"/>
<rect x="1054.5" y="1021.1" width="98.0" height="45.8" fill="#ffe032" stroke="#000" stroke-width="1.6"/>
<rect x="1152.5" y="1021.1" width="98.0" height="45.8" fill="#ffaa00" stroke="#000" stroke-width="1.6"/>
<rect x="1250.5" y="1021.1" width="98.0" height="45.8" fill="#ff6e00" stroke="#000" stroke-width="1.6"/>
<rect x="1348.5" y="1021.1" width="98.0" height="45.8" fill="#c80000" stroke="#000" stroke-width="1.6"/>
<rect x="1446.5" y="1021.1" width="98.0" height="45.8" fill="#a02323" stroke="#000" stroke-width="1.6"/>
<rect x="1544.5" y="1021.1" width="98.0" height="45.8" fill="#ff69b4" stroke="#000" stroke-width="1.6"/>
<g font-family="Liberation Sans, sans-serif" font-size="48" text-anchor="middle">
<text transform="translate(368.5,1114.5) scale(1,1.048)">-6</text>
<text transform="translate(466.5,1114.5) scale(1,1.048)">-5</text>
<text transform="translate(564.5,1114.5) scale(1,1.048)">-4</text>
<text transform="translate(662.5,1114.5) scale(1,1.048)">-3</text>
<text transform="translate(760.5,1114.5) scale(1,1.048)">-2</text>
<text transform="translate(858.5,1114.5) scale(1,1.048)">-1</text>
<text transform="translate(956.5,1114.5) scale(1,1.048)">0</text>
<text transform="translate(1054.5,1114.5) scale(1,1.048)">1</text>
<text transform="translate(1152.5,1114.5) scale(1,1.048)">2</text>
<text transform="translate(1250.5,1114.5) scale(1,1.048)">3</text>
<text transform="translate(1348.5,1114.5) scale(1,1.048)">4</text>
<text transform="translate(1446.5,1114.5) scale(1,1.048)">5</text>
<text transform="translate(1544.5,1114.5) scale(1,1.048)">6</text>
</g>
<text font-family="Liberation Sans, sans-serif" font-size="48" transform="translate(1758.2,1081.7) scale(1,1.03)">degC</text>
</svg></body></html>
